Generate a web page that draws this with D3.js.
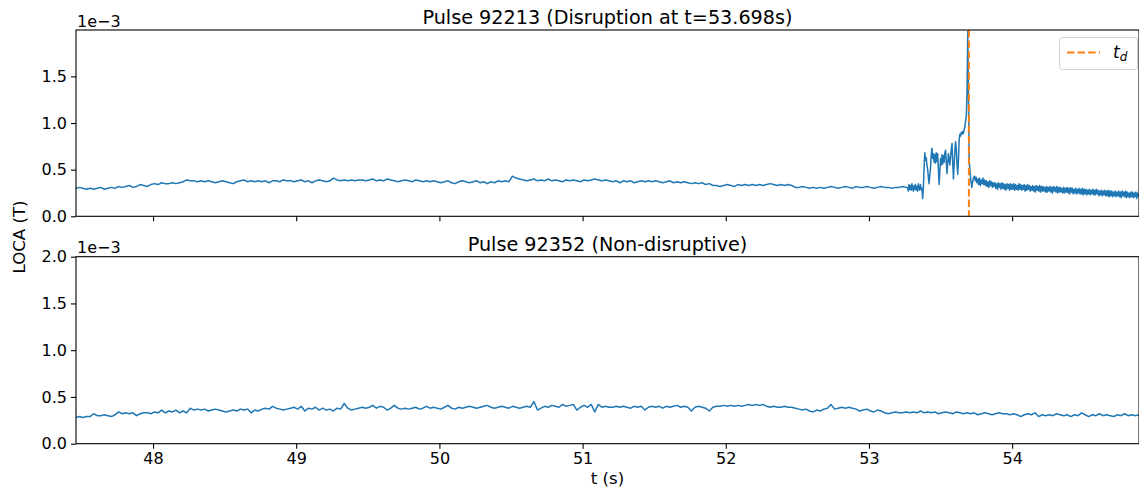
<!DOCTYPE html>
<html>
<head>
<meta charset="utf-8">
<script src="https://cdn.jsdelivr.net/npm/d3@7"></script>
<style>
  html, body { margin: 0; padding: 0; background: #fff; }
  svg { display: block; font-family: "DejaVu Sans", sans-serif; }
</style>
</head>
<body>
<svg id="chart" width="1139" height="489"></svg>
<script>
// ---- Data (LOCA signal, in units of 1e-3 T) ----
const xTicks = [48, 49, 50, 51, 52, 53, 54];
const yTicksTop = [0, 0.5, 1.0, 1.5];
const yTicksBottom = [0, 0.5, 1.0, 1.5, 2.0];
const xDomain = [47.462, 54.886];
const disruptionTime = 53.698;

// Pulse 92213, quiet phase: sampled every 25 ms from 47.46 s
const quietStart = 47.46, quietStep = 0.025;
const pulse92213Quiet = [
  0.30,0.31,0.30,0.29,0.30,0.29,0.30,0.31,0.29,0.30,
  0.31,0.30,0.32,0.31,0.32,0.33,0.31,0.32,0.34,0.33,
  0.32,0.34,0.35,0.34,0.36,0.35,0.35,0.36,0.35,0.36,
  0.37,0.39,0.38,0.38,0.37,0.38,0.37,0.38,0.37,0.36,
  0.37,0.38,0.37,0.36,0.35,0.37,0.38,0.39,0.37,0.38,
  0.37,0.38,0.37,0.38,0.36,0.38,0.38,0.37,0.39,0.38,
  0.38,0.37,0.38,0.39,0.37,0.38,0.36,0.38,0.39,0.38,
  0.37,0.38,0.41,0.39,0.38,0.39,0.38,0.39,0.38,0.39,
  0.39,0.38,0.39,0.40,0.38,0.39,0.38,0.40,0.39,0.38,
  0.37,0.38,0.39,0.38,0.37,0.39,0.38,0.37,0.38,0.37,
  0.38,0.37,0.36,0.37,0.38,0.36,0.35,0.37,0.38,0.37,
  0.36,0.37,0.38,0.36,0.37,0.35,0.37,0.36,0.38,0.37,
  0.38,0.37,0.43,0.41,0.40,0.39,0.38,0.39,0.40,0.38,
  0.39,0.38,0.40,0.38,0.39,0.38,0.37,0.39,0.38,0.39,
  0.38,0.37,0.39,0.38,0.39,0.40,0.39,0.38,0.39,0.38,
  0.37,0.38,0.36,0.38,0.37,0.38,0.36,0.37,0.38,0.37,
  0.38,0.37,0.38,0.37,0.36,0.37,0.38,0.36,0.37,0.36,
  0.37,0.36,0.35,0.36,0.35,0.36,0.34,0.35,0.33,0.33,
  0.32,0.33,0.34,0.33,0.32,0.34,0.33,0.34,0.33,0.34,
  0.33,0.34,0.33,0.34,0.35,0.34,0.33,0.34,0.33,0.34,
  0.33,0.31,0.31,0.32,0.31,0.30,0.31,0.30,0.31,0.30,
  0.31,0.32,0.31,0.30,0.31,0.32,0.31,0.30,0.32,0.31,
  0.31,0.32,0.31,0.30,0.31,0.32,0.31,0.31,0.30,0.31,
  0.31,0.32,0.31
];

// Pulse 92213, precursor burst: sampled every 5 ms from 53.27 s
const burstStart = 53.27, burstStep = 0.005;
const pulse92213Burst = [
  0.31,0.27,0.34,0.29,0.33,0.28,0.35,0.30,0.27,0.33,
  0.29,0.34,0.28,0.32,0.27,0.35,0.30,0.28,0.34,0.29,
  0.30,0.19,0.30,0.52,0.68,0.60,0.63,0.55,0.50,0.42,
  0.35,0.44,0.52,0.66,0.73,0.62,0.67,0.58,0.66,0.57,
  0.68,0.59,0.67,0.50,0.34,0.48,0.62,0.55,0.66,0.56,
  0.65,0.58,0.68,0.71,0.58,0.46,0.58,0.67,0.60,0.55,
  0.64,0.72,0.78,0.58,0.40,0.55,0.70,0.80,0.72,0.56,
  0.45,0.60,0.82,0.88,0.86,0.90,0.88,0.91,0.89,0.93,
  0.96,1.02,1.08,1.35,1.98,1.30
];

// Pulse 92213, post-disruption decay: sampled every 6 ms from 53.70 s
const decayStart = 53.70, decayStep = 0.006;
const pulse92213Decay = [
  0.60,0.48,0.38,0.31,0.37,0.41,0.43,0.38,0.42,0.36,
  0.40,0.34,0.41,0.33,0.39,0.35,0.41,0.34,0.39,0.33,
  0.38,0.32,0.37,0.31,0.38,0.33,0.37,0.31,0.36,0.32,
  0.36,0.30,0.35,0.29,0.36,0.31,0.35,0.29,0.36,0.30,
  0.35,0.29,0.34,0.28,0.35,0.30,0.34,0.28,0.35,0.29,
  0.34,0.29,0.35,0.28,0.34,0.29,0.33,0.28,0.35,0.29,
  0.34,0.28,0.33,0.29,0.34,0.27,0.33,0.28,0.34,0.29,
  0.33,0.27,0.32,0.28,0.33,0.27,0.32,0.26,0.33,0.28,
  0.32,0.27,0.33,0.26,0.32,0.27,0.32,0.27,0.31,0.26,
  0.32,0.26,0.31,0.27,0.32,0.26,0.31,0.25,0.32,0.27,
  0.31,0.26,0.32,0.25,0.31,0.26,0.31,0.26,0.30,0.25,
  0.31,0.25,0.30,0.26,0.31,0.25,0.30,0.24,0.31,0.26,
  0.30,0.24,0.29,0.25,0.30,0.24,0.29,0.25,0.30,0.24,
  0.29,0.24,0.30,0.23,0.29,0.24,0.29,0.23,0.28,0.24,
  0.29,0.23,0.28,0.24,0.29,0.23,0.28,0.23,0.29,0.24,
  0.28,0.22,0.27,0.23,0.28,0.22,0.27,0.23,0.28,0.22,
  0.27,0.22,0.28,0.21,0.27,0.22,0.27,0.21,0.26,0.22,
  0.27,0.21,0.26,0.22,0.27,0.21,0.26,0.20,0.27,0.22,
  0.26,0.21,0.27,0.20,0.26,0.21,0.25,0.20,0.26,0.21,
  0.26,0.20,0.25,0.21,0.26,0.19,0.25,0.21
];

// Pulse 92352 (non-disruptive): sampled every 25 ms from 47.46 s
const pulse92352Start = 47.46, pulse92352Step = 0.025;
const pulse92352 = [
  0.28,0.29,0.28,0.29,0.29,0.32,0.30,0.30,0.31,0.30,
  0.29,0.31,0.34,0.32,0.33,0.32,0.33,0.30,0.32,0.33,
  0.33,0.32,0.34,0.33,0.36,0.33,0.35,0.34,0.36,0.33,
  0.35,0.33,0.38,0.36,0.37,0.36,0.37,0.35,0.36,0.37,
  0.36,0.35,0.34,0.35,0.36,0.35,0.37,0.36,0.37,0.33,
  0.36,0.35,0.37,0.38,0.37,0.40,0.38,0.37,0.36,0.37,
  0.38,0.39,0.37,0.40,0.35,0.38,0.37,0.39,0.36,0.38,
  0.36,0.37,0.35,0.38,0.37,0.43,0.38,0.36,0.37,0.38,
  0.39,0.38,0.39,0.41,0.38,0.40,0.39,0.36,0.38,0.41,
  0.38,0.37,0.38,0.37,0.38,0.39,0.37,0.38,0.40,0.38,
  0.39,0.38,0.37,0.39,0.41,0.38,0.37,0.39,0.38,0.39,
  0.40,0.39,0.38,0.39,0.40,0.41,0.39,0.38,0.39,0.40,
  0.39,0.38,0.40,0.39,0.38,0.39,0.40,0.39,0.45,0.36,
  0.38,0.40,0.39,0.41,0.40,0.39,0.42,0.40,0.41,0.42,
  0.36,0.39,0.41,0.39,0.42,0.34,0.42,0.39,0.40,0.39,
  0.39,0.40,0.39,0.40,0.39,0.38,0.40,0.39,0.40,0.36,
  0.39,0.40,0.39,0.40,0.38,0.40,0.39,0.40,0.41,0.39,
  0.40,0.39,0.35,0.39,0.40,0.39,0.38,0.35,0.39,0.40,
  0.40,0.41,0.40,0.41,0.40,0.41,0.40,0.41,0.42,0.41,
  0.42,0.41,0.42,0.40,0.39,0.40,0.39,0.39,0.40,0.39,
  0.39,0.38,0.37,0.36,0.37,0.35,0.34,0.36,0.35,0.37,
  0.38,0.42,0.37,0.38,0.39,0.38,0.39,0.38,0.37,0.35,
  0.36,0.37,0.35,0.34,0.36,0.35,0.33,0.32,0.33,0.34,
  0.33,0.33,0.34,0.33,0.34,0.33,0.35,0.33,0.34,0.33,
  0.34,0.32,0.33,0.34,0.33,0.32,0.34,0.33,0.32,0.33,
  0.32,0.33,0.31,0.32,0.33,0.32,0.31,0.32,0.33,0.32,
  0.32,0.31,0.32,0.31,0.29,0.31,0.32,0.31,0.33,0.29,
  0.31,0.30,0.31,0.30,0.32,0.31,0.30,0.31,0.29,0.31,
  0.30,0.33,0.31,0.29,0.31,0.30,0.32,0.30,0.31,0.30,
  0.29,0.31,0.30,0.32,0.30,0.31,0.30,0.31
];

// ---- Helpers ----
function sampled(start, step, values) {
  return values.map((v, i) => ({ t: start + i * step, v }));
}
const topSeries = [].concat(
  sampled(quietStart, quietStep, pulse92213Quiet),
  sampled(burstStart, burstStep, pulse92213Burst),
  sampled(decayStart, decayStep, pulse92213Decay)
);
const bottomSeries = sampled(pulse92352Start, pulse92352Step, pulse92352);

// ---- Layout ----
const svg = d3.select("#chart");
const W = 1139, H = 489;
const left = 76, right = 1139;
const panels = [
  { top: 30, bottom: 216.3, yMax: 1.997, ticks: yTicksTop, data: topSeries,
    title: "Pulse 92213 (Disruption at t=53.698s)", showX: false, marker: true },
  { top: 256.7, bottom: 443.7, yMax: 2.0, ticks: yTicksBottom, data: bottomSeries,
    title: "Pulse 92352 (Non-disruptive)", showX: true, marker: false }
];
const blue = "#1f77b4", orange = "#ff7f0e";
const tickFont = 16, labelFont = 16.6, titleFont = 19.2;

const x = d3.scaleLinear().domain(xDomain).range([left, right]);

svg.append("rect").attr("width", W).attr("height", H).attr("fill", "#fff");

panels.forEach((p, k) => {
  const y = d3.scaleLinear().domain([0, p.yMax]).range([p.bottom, p.top]);
  const g = svg.append("g");

  const clipId = "clip" + k;
  svg.append("clipPath").attr("id", clipId)
    .append("rect").attr("x", left).attr("y", p.top)
    .attr("width", right - left).attr("height", p.bottom - p.top);

  // signal trace
  const line = d3.line().x(d => x(d.t)).y(d => y(d.v));
  g.append("path").datum(p.data)
    .attr("clip-path", `url(#${clipId})`)
    .attr("fill", "none").attr("stroke", blue)
    .attr("stroke-width", 1.5).attr("stroke-linejoin", "round")
    .attr("d", line);

  // disruption time marker
  if (p.marker) {
    g.append("line")
      .attr("x1", x(disruptionTime)).attr("x2", x(disruptionTime))
      .attr("y1", p.top).attr("y2", p.bottom)
      .attr("stroke", orange).attr("stroke-width", 2)
      .attr("stroke-dasharray", "7.4,3.2");
  }

  // x axis
  const xa = d3.axisBottom(x).tickValues(xTicks).tickSize(5).tickPadding(3.5)
    .tickFormat(p.showX ? d3.format("d") : () => "");
  const gx = g.append("g").attr("transform", `translate(0,${p.bottom})`).call(xa);

  // y axis
  const ya = d3.axisLeft(y).tickValues(p.ticks).tickSize(5).tickPadding(4)
    .tickFormat(d3.format(".1f"));
  const gy = g.append("g").attr("transform", `translate(${left},0)`).call(ya);

  [gx, gy].forEach(a => {
    a.select(".domain").remove();
    a.selectAll(".tick line").attr("stroke", "#000").attr("stroke-width", 1.1);
    a.selectAll(".tick text").attr("fill", "#000")
      .style("font-size", tickFont + "px").style("font-family", "DejaVu Sans");
  });

  // frame
  g.append("rect").attr("x", left).attr("y", p.top)
    .attr("width", right - left).attr("height", p.bottom - p.top)
    .attr("fill", "none").attr("stroke", "#000").attr("stroke-width", 1.1);

  // offset text
  g.append("text").attr("x", left + 1).attr("y", p.top - 3.5)
    .style("font-size", tickFont + "px").attr("fill", "#000")
    .text("1e\u22123");

  // title
  g.append("text").attr("x", (left + right) / 2).attr("y", p.top - 6)
    .attr("text-anchor", "middle").style("font-size", titleFont + "px")
    .attr("fill", "#000").text(p.title);
});

// legend
const lg = svg.append("g");
lg.append("rect").attr("x", 1059.5).attr("y", 37.5).attr("width", 78).attr("height", 32)
  .attr("rx", 3).attr("fill", "#fff").attr("fill-opacity", 0.8)
  .attr("stroke", "#d0d0d0").attr("stroke-width", 1);
lg.append("line").attr("x1", 1067).attr("x2", 1100).attr("y1", 52.5).attr("y2", 52.5)
  .attr("stroke", orange).attr("stroke-width", 2).attr("stroke-dasharray", "7.4,3.2");
const lt = lg.append("text").attr("x", 1113).attr("y", 58).attr("fill", "#000")
  .style("font-size", "17px").style("font-style", "italic");
lt.append("tspan").text("t");
lt.append("tspan").attr("dy", 3).style("font-size", "12px").text("d");

// axis labels
svg.append("text").attr("transform", "translate(25,237) rotate(-90)")
  .attr("text-anchor", "middle").style("font-size", labelFont + "px")
  .attr("fill", "#000").text("LOCA (T)");
svg.append("text").attr("x", (left + right) / 2).attr("y", 484)
  .attr("text-anchor", "middle").style("font-size", labelFont + "px")
  .attr("fill", "#000").text("t (s)");
</script>
</body>
</html>
